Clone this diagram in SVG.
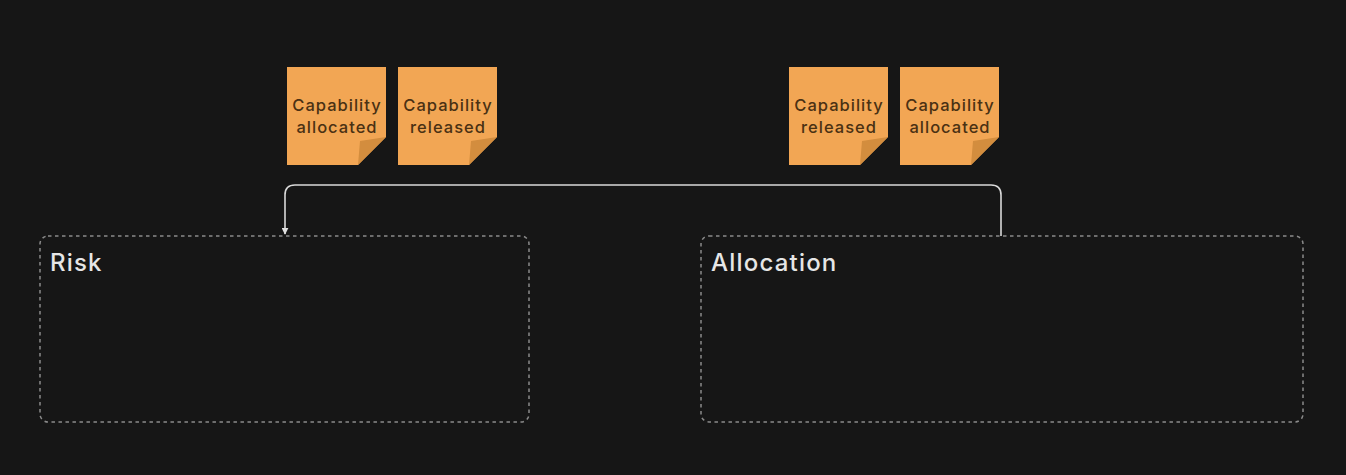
<svg xmlns="http://www.w3.org/2000/svg" width="1346" height="475" viewBox="0 0 1346 475">
<defs>
<style>
.note{fill:#f2a654}
.fold{fill:#d38d3e}
.nt{font-family:Inter,"Noto Sans",sans-serif;font-size:16.5px;font-weight:500;letter-spacing:1px;fill:#4a3113;text-anchor:middle}
.box{fill:none;stroke:#8a8a8a;stroke-width:1.5;stroke-dasharray:3.5 3.5}
.lbl{font-family:Inter,"Noto Sans",sans-serif;font-size:24px;font-weight:500;letter-spacing:1.2px;fill:#e6e6e6}
.conn{fill:none;stroke:#d9d9d9;stroke-width:1.6}
</style>
<marker id="arr" viewBox="0 0 10 10" refX="9" refY="5" markerWidth="7" markerHeight="7" markerUnits="userSpaceOnUse" orient="auto">
<path d="M0,0 L10,5 L0,10 z" fill="#e0e0e0"/>
</marker>
<g id="sticky">
<polygon class="note" points="0,0 99,0 99,70 71,98 0,98"/>
<polygon class="fold" points="99,70 73,74 71,98"/>
</g>
</defs>
<rect width="1346" height="475" fill="#161616"/>
<g id="connectors">
<path class="conn" d="M1001,236 V195 Q1001,185 991,185 H295 Q285,185 285,195 V234" marker-end="url(#arr)"/>
</g>
<g id="risk">
<rect class="box" x="40" y="236" width="489" height="186" rx="8"/>
<text class="lbl" x="50" y="271">Risk</text>
</g>
<g id="allocation">
<rect class="box" x="701" y="236" width="602" height="186" rx="8"/>
<text class="lbl" x="711" y="271">Allocation</text>
</g>
<g id="note1">
<use href="#sticky" x="287" y="67"/>
<text class="nt" x="337" y="111">Capability</text>
<text class="nt" x="337" y="133">allocated</text>
</g>
<g id="note2">
<use href="#sticky" x="398" y="67"/>
<text class="nt" x="448" y="111">Capability</text>
<text class="nt" x="448" y="133">released</text>
</g>
<g id="note3">
<use href="#sticky" x="789" y="67"/>
<text class="nt" x="839" y="111">Capability</text>
<text class="nt" x="839" y="133">released</text>
</g>
<g id="note4">
<use href="#sticky" x="900" y="67"/>
<text class="nt" x="950" y="111">Capability</text>
<text class="nt" x="950" y="133">allocated</text>
</g>
</svg>
